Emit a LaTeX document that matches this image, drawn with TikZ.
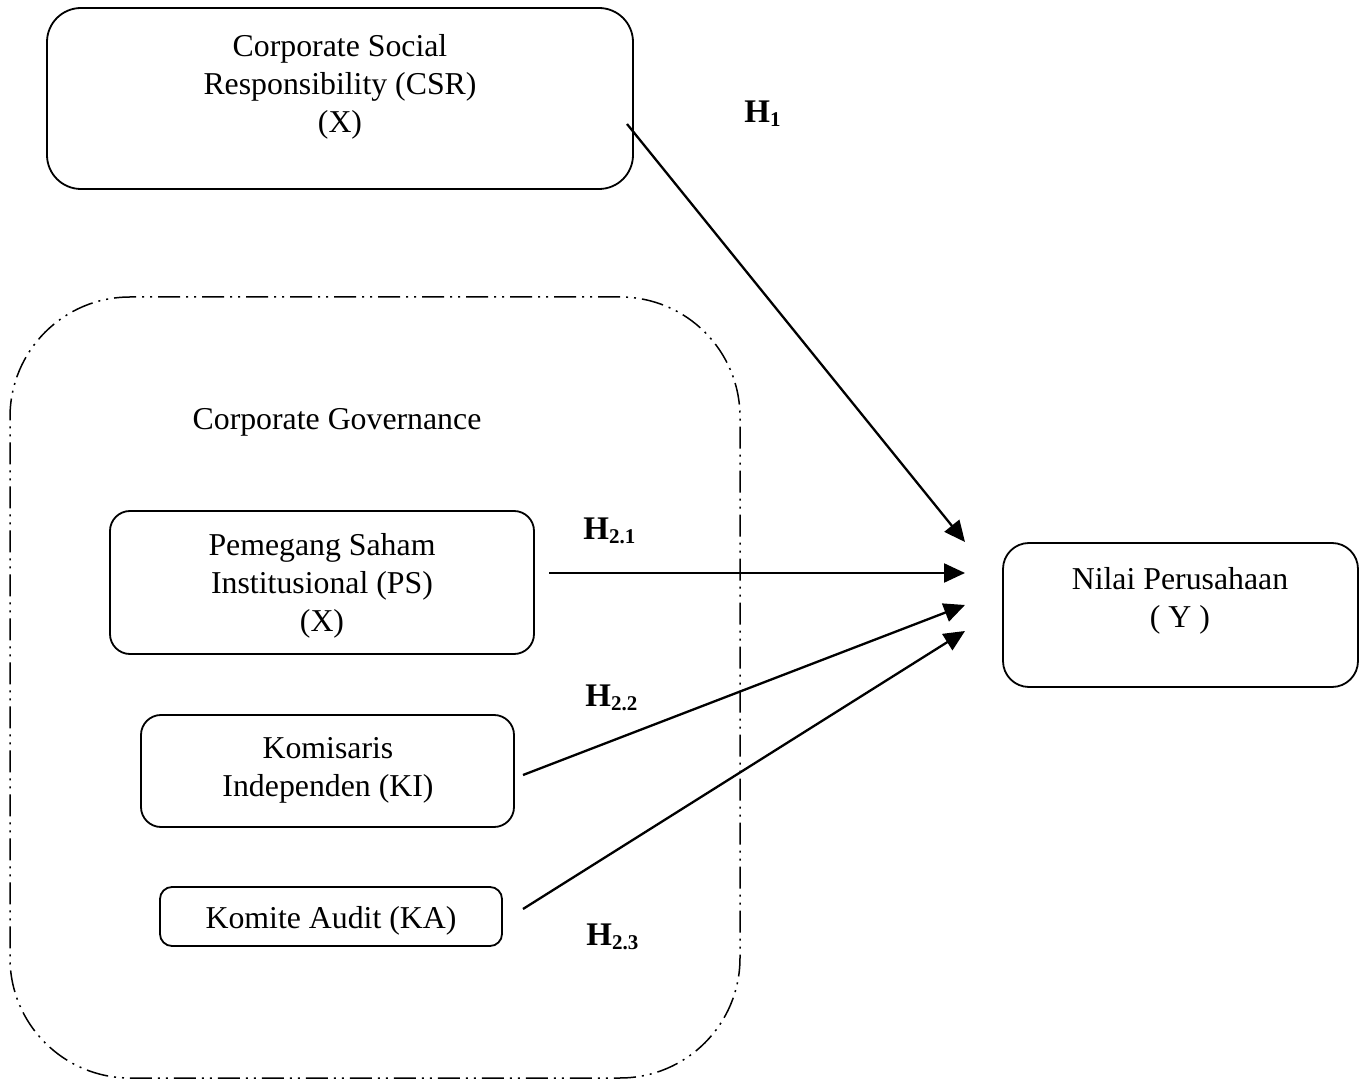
\documentclass[tikz,border=0pt]{standalone}
\usepackage{fontspec}
\setmainfont{Liberation Serif}
\usetikzlibrary{arrows.meta}
\begin{document}
\begin{tikzpicture}[x=0.5pt,y=-0.5pt,
 box/.style={draw, line width=0.9pt, rounded corners=#1, inner sep=0},
 grp/.style={draw, line width=0.75pt, rounded corners=60pt, inner sep=0,
   dash pattern=on 11pt off 3pt on 1pt off 3pt on 1pt off 3pt},
 txt/.style={align=center, font=\fontsize{15.9}{19}\selectfont, inner sep=0},
 hlab/.style={anchor=west, font=\fontsize{16.5}{19}\selectfont\bfseries, inner sep=0},
 arr/.style={line width=1.15pt, -{Triangle[length=10.5pt,width=9.5pt]}},
 ]
\newcommand{\hsub}[1]{\raisebox{-0.12em}{\fontsize{10.5}{10.5}\selectfont\bfseries #1}}
\useasboundingbox (0,0) rectangle (1367,1080);
% boxes
\node[box=17pt, minimum width=293pt, minimum height=90.5pt] (csr) at (340,98.5) {};
\node[txt] (csrt) at (340,87) {Corporate Social\\Responsibility (CSR)\\(X)};
\node[grp, minimum width=365pt, minimum height=390.5pt] (cg) at (375,687.5) {};
\node[txt] (cgt) at (337,422) {Corporate Governance};
\node[box=10pt, minimum width=212pt, minimum height=71.5pt] (ps) at (322,582.5) {};
\node[txt] (pst) at (322,586) {Pemegang Saham\\Institusional (PS)\\(X)};
\node[box=10pt, minimum width=186.5pt, minimum height=56pt] (ki) at (327.5,771) {};
\node[txt] (kit) at (328,770) {Komisaris\\Independen (KI)};
\node[box=6pt, minimum width=171pt, minimum height=29.5pt] (ka) at (331,916.5) {};
\node[txt] (kat) at (331,921) {Komite Audit (KA)};
\node[box=13pt, minimum width=177.5pt, minimum height=72pt] (y) at (1180.5,615) {};
\node[txt] (yt) at (1180,601) {Nilai Perusahaan\\( Y )};
% labels
\node[hlab] (h1) at (744,114) {H\hsub{1}};
\node[hlab] (h21) at (583,531) {H\hsub{2.1}};
\node[hlab] (h22) at (585,698) {H\hsub{2.2}};
\node[hlab] (h23) at (586,937) {H\hsub{2.3}};
% connector ends
\coordinate (s1) at (627,124);
\coordinate (e1) at (965,542);
\coordinate (s2) at (549,573);
\coordinate (e2) at (965,573);
\coordinate (s3) at (523,775);
\coordinate (e3) at (965,605);
\coordinate (s4) at (523,909);
\coordinate (e4) at (965,631);
\draw[arr] (s1) -- (e1);
\draw[arr] (s2) -- (e2);
\draw[arr] (s3) -- (e3);
\draw[arr] (s4) -- (e4);
\end{tikzpicture}
\end{document}
